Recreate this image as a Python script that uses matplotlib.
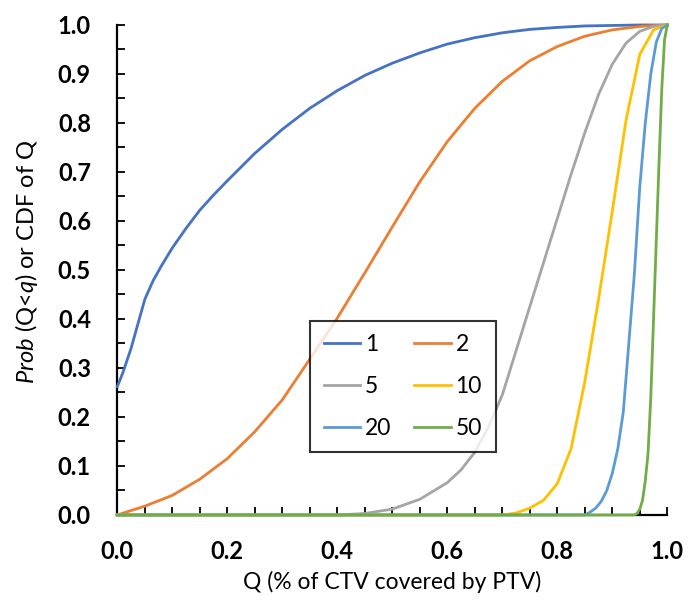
"""CDF of CTV coverage Q for different numbers of fractions."""

import matplotlib

matplotlib.use("Agg")
import matplotlib.pyplot as plt
from matplotlib.ticker import MultipleLocator, FormatStrFormatter

plt.rcParams["font.family"] = ["Lato", "DejaVu Sans"]
plt.rcParams["mathtext.fontset"] = "custom"
plt.rcParams["mathtext.rm"] = "Lato"
plt.rcParams["mathtext.it"] = "Lato:italic"

# series
q_1 = [0.0, 0.01, 0.025, 0.04, 0.05, 0.065, 0.08, 0.1, 0.125, 0.15, 0.175, 0.2, 0.225,
       0.25, 0.3, 0.35, 0.4, 0.45, 0.5, 0.55, 0.6, 0.65, 0.7, 0.75, 0.8, 0.85, 0.9, 0.95,
       1.0]
p_1 = [0.262, 0.29, 0.34, 0.40, 0.44, 0.478, 0.508, 0.545, 0.585, 0.622, 0.653, 0.682,
       0.71, 0.738, 0.787, 0.83, 0.866, 0.897, 0.922, 0.943, 0.961, 0.974, 0.984, 0.991,
       0.995, 0.998, 0.999, 1.0, 1.0]

q_2 = [0.0, 0.05, 0.1, 0.15, 0.2, 0.25, 0.3, 0.35, 0.4, 0.45, 0.5, 0.55, 0.6, 0.65, 0.7,
       0.75, 0.8, 0.85, 0.9, 0.95, 1.0]
p_2 = [0.0, 0.018, 0.04, 0.073, 0.115, 0.17, 0.235, 0.318, 0.402, 0.494, 0.588, 0.68,
       0.762, 0.83, 0.885, 0.927, 0.956, 0.977, 0.99, 0.997, 1.0]

q_5 = [0.0, 0.4, 0.45, 0.5, 0.55, 0.6, 0.625, 0.65, 0.675, 0.7, 0.725, 0.75, 0.775, 0.8,
       0.825, 0.85, 0.875, 0.9, 0.925, 0.95, 0.975, 1.0]
p_5 = [0.0, 0.0, 0.003, 0.012, 0.032, 0.066, 0.092, 0.128, 0.18, 0.245, 0.335, 0.425,
       0.515, 0.605, 0.695, 0.78, 0.858, 0.92, 0.963, 0.987, 0.997, 1.0]

q_10 = [0.0, 0.70, 0.725, 0.75, 0.775, 0.80, 0.825, 0.85, 0.875, 0.90, 0.925, 0.95,
        0.975, 1.0]
p_10 = [0.0, 0.0, 0.004, 0.014, 0.03, 0.064, 0.135, 0.272, 0.44, 0.62, 0.806, 0.94,
        0.99, 1.0]

q_20 = [0.0, 0.85, 0.86, 0.87, 0.88, 0.89, 0.90, 0.91, 0.92, 0.93, 0.94, 0.95, 0.96,
        0.97, 0.98, 0.99, 1.0]
p_20 = [0.0, 0.0, 0.006, 0.014, 0.028, 0.05, 0.085, 0.135, 0.21, 0.35, 0.49, 0.67, 0.80,
        0.90, 0.965, 0.993, 1.0]

q_50 = [0.0, 0.94, 0.945, 0.95, 0.955, 0.96, 0.965, 0.97, 0.975, 0.98, 0.985, 0.99,
        0.995, 1.0]
p_50 = [0.0, 0.0, 0.003, 0.012, 0.03, 0.07, 0.126, 0.24, 0.40, 0.56, 0.72, 0.87, 0.97, 1.0]

labels = ["1", "2", "5", "10", "20", "50"]
colors = ["#4472C4", "#ED7D31", "#A5A5A5", "#FFC000", "#5B9BD5", "#70AD47"]

fig = plt.figure(figsize=(6.88, 6.06), dpi=100, facecolor="white")
ax = fig.add_axes([0.1705, 0.1502, 0.7994, 0.8086])

lines = []
for q, p, lab, col in zip([q_1, q_2, q_5, q_10, q_20, q_50],
                          [p_1, p_2, p_5, p_10, p_20, p_50], labels, colors):
    (ln,) = ax.plot(q, p, color=col, lw=2.0, label=lab, clip_on=False, zorder=3)
    lines.append(ln)

ax.set_xlim(0, 1)
ax.set_ylim(0, 1)
ax.xaxis.set_major_locator(MultipleLocator(0.2))
ax.xaxis.set_minor_locator(MultipleLocator(0.05))
ax.yaxis.set_major_locator(MultipleLocator(0.1))
ax.yaxis.set_minor_locator(MultipleLocator(0.05))
ax.xaxis.set_major_formatter(FormatStrFormatter("%.1f"))
ax.yaxis.set_major_formatter(FormatStrFormatter("%.1f"))
ax.tick_params(which="both", direction="in", length=5.5, width=1.3, color="black")
ax.tick_params(axis="x", which="major", pad=18, labelsize=17)
ax.tick_params(axis="y", which="major", pad=19, labelsize=17)
for lab in ax.get_xticklabels() + ax.get_yticklabels():
    lab.set_fontweight("bold")

for spine in ("top", "right"):
    ax.spines[spine].set_visible(False)
for spine in ("left", "bottom"):
    ax.spines[spine].set_linewidth(1.6)

ax.set_xlabel("Q (% of CTV covered by PTV)", fontsize=16.5, labelpad=6)
fig.text(0.038, 0.568, r"$\mathit{Prob}$ (Q<$\mathit{q}$) or CDF of Q", rotation=90,
         ha="center", va="center", fontsize=17)

order = [0, 2, 4, 1, 3, 5]
leg = ax.legend([lines[i] for i in order], [labels[i] for i in order], ncol=2,
                loc="center", bbox_to_anchor=(0.519, 0.262), fontsize=16.5,
                frameon=True, fancybox=False, edgecolor="black", handlelength=1.6,
                handletextpad=0.2, columnspacing=1.0, labelspacing=0.9,
                borderpad=0.6)
leg.get_frame().set_linewidth(1.5)
leg.set_zorder(5)

fig.savefig("out.png", dpi=100, facecolor=fig.get_facecolor())
